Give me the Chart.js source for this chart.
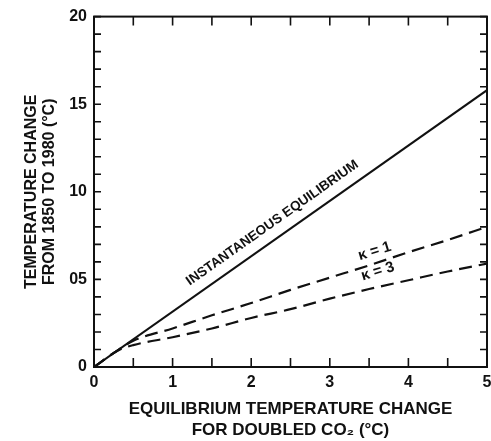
<!DOCTYPE html>
<html>
<head>
<meta charset="utf-8">
<script src="https://cdn.jsdelivr.net/npm/chart.js@4.4.1/dist/chart.umd.min.js"></script>
<style>
  html, body { margin: 0; padding: 0; background: #fff; }
</style>
</head>
<body>
<canvas id="tempChart" width="491" height="441"></canvas>
<script>
// tick labels as lettered on the axes
const xTickLabels = ['0', '1', '2', '3', '4', '5'];
const yTickLabels = ['0', '05', '10', '15', '20'];

// instantaneous equilibrium response (straight line)
const instX = [0, 5];
const instY = [0, 1.58];

// transient response for two diffusion coefficients
const curveX = [0, 0.3, 0.5, 1, 1.5, 2, 2.5, 3, 3.5, 4, 4.5, 5];
const kappa1 = [0, 0.095, 0.15, 0.22, 0.295, 0.365, 0.44, 0.51, 0.58, 0.655, 0.725, 0.80];
const kappa3 = [0, 0.093, 0.125, 0.17, 0.22, 0.28, 0.33, 0.39, 0.445, 0.495, 0.545, 0.59];

const INK = '#111';
const FONT = '"Liberation Sans", Arial, sans-serif';

// where the curve names sit (data coords)
const curveLabels = [
  { text: 'κ = 1', x: 3.57, y: 0.66 },
  { text: 'κ = 3', x: 3.61, y: 0.545 }
];
const instLabel = { text: 'INSTANTANEOUS EQUILIBRIUM', at: 0.476, offset: 15 };

function toPoints(xs, ys) {
  return xs.map((v, i) => ({ x: v, y: ys[i] }));
}

// box frame, inward ticks on all four sides, and the line labels
const frameTicks = {
  id: 'frameTicks',
  afterDatasetsDraw(chart) {
    const { ctx, chartArea: a, scales: { x, y } } = chart;
    ctx.save();
    ctx.strokeStyle = INK;
    ctx.lineWidth = 2;
    ctx.strokeRect(a.left, a.top, a.right - a.left, a.bottom - a.top);

    ctx.lineWidth = 1.6;
    ctx.beginPath();
    x.ticks.forEach(t => {
      const px = x.getPixelForValue(t.value);
      ctx.moveTo(px, a.bottom); ctx.lineTo(px, a.bottom - 9);
      ctx.moveTo(px, a.top); ctx.lineTo(px, a.top + 9);
    });
    y.ticks.forEach(t => {
      const py = y.getPixelForValue(t.value);
      ctx.moveTo(a.left, py); ctx.lineTo(a.left + 7, py);
      ctx.moveTo(a.right, py); ctx.lineTo(a.right - 7, py);
    });
    ctx.stroke();

    ctx.fillStyle = INK;
    ctx.textAlign = 'center';
    ctx.textBaseline = 'middle';
    ctx.font = 'bold 13.5px ' + FONT;

    // label running along the solid line
    const x0 = x.getPixelForValue(instX[0]), y0 = y.getPixelForValue(instY[0]);
    const x1 = x.getPixelForValue(instX[1]), y1 = y.getPixelForValue(instY[1]);
    const ang = Math.atan2(y1 - y0, x1 - x0);
    const cx = x0 + (x1 - x0) * instLabel.at;
    const cy = y0 + (y1 - y0) * instLabel.at;
    ctx.save();
    ctx.translate(cx + Math.sin(ang) * instLabel.offset, cy - Math.cos(ang) * instLabel.offset);
    ctx.rotate(ang);
    ctx.fillText(instLabel.text, 0, 0);
    ctx.restore();

    ctx.font = 'bold 15px ' + FONT;
    curveLabels.forEach(l => {
      ctx.save();
      ctx.translate(x.getPixelForValue(l.x), y.getPixelForValue(l.y));
      ctx.rotate(-17 * Math.PI / 180);
      ctx.fillText(l.text, 0, 0);
      ctx.restore();
    });
    ctx.restore();
  }
};

new Chart(document.getElementById('tempChart'), {
  type: 'line',
  data: {
    datasets: [
      {
        data: toPoints(instX, instY),
        borderColor: INK,
        borderWidth: 2
      },
      {
        data: toPoints(curveX, kappa1),
        borderColor: INK,
        borderWidth: 2.2,
        borderDash: [13, 7],
        cubicInterpolationMode: 'monotone'
      },
      {
        data: toPoints(curveX, kappa3),
        borderColor: INK,
        borderWidth: 2.2,
        borderDash: [13, 7],
        cubicInterpolationMode: 'monotone'
      }
    ]
  },
  options: {
    responsive: false,
    animation: false,
    layout: { padding: { top: 16, right: 4, bottom: 0, left: 0 } },
    plugins: { legend: { display: false }, tooltip: { enabled: false } },
    elements: { point: { radius: 0 } },
    scales: {
      x: {
        type: 'linear',
        min: 0,
        max: 5,
        grid: { display: false, drawTicks: false },
        border: { display: false },
        ticks: {
          stepSize: 0.5,
          autoSkip: false,
          maxRotation: 0,
          padding: 6,
          color: INK,
          font: { family: FONT, size: 16, weight: 'bold' },
          callback: (v, i) => (i % 2 === 0 ? xTickLabels[i / 2] : '')
        },
        title: {
          display: true,
          text: ['EQUILIBRIUM TEMPERATURE CHANGE', 'FOR DOUBLED CO₂ (°C)'],
          color: INK,
          font: { family: FONT, size: 17, weight: 'bold', lineHeight: 1.24 },
          padding: { top: 0, bottom: 0 }
        },
        afterFit: s => {
          s.height = 74;
          s.paddingLeft = 0;
          s.paddingRight = 0;
        }
      },
      y: {
        min: 0,
        max: 2,
        grid: { display: false, drawTicks: false },
        border: { display: false },
        ticks: {
          stepSize: 0.1,
          autoSkip: false,
          padding: 7,
          color: INK,
          font: { family: FONT, size: 16, weight: 'bold' },
          callback: (v, i) => (i % 5 === 0 ? yTickLabels[i / 5] : '')
        },
        title: {
          display: true,
          text: ['TEMPERATURE CHANGE', 'FROM 1850 TO 1980 (°C)'],
          color: INK,
          font: { family: FONT, size: 16, weight: 'bold', lineHeight: 1.125 },
          padding: { top: 23, bottom: 0 }
        },
        afterFit: s => { s.width = 94; }
      }
    }
  },
  plugins: [frameTicks]
});
</script>
</body>
</html>
